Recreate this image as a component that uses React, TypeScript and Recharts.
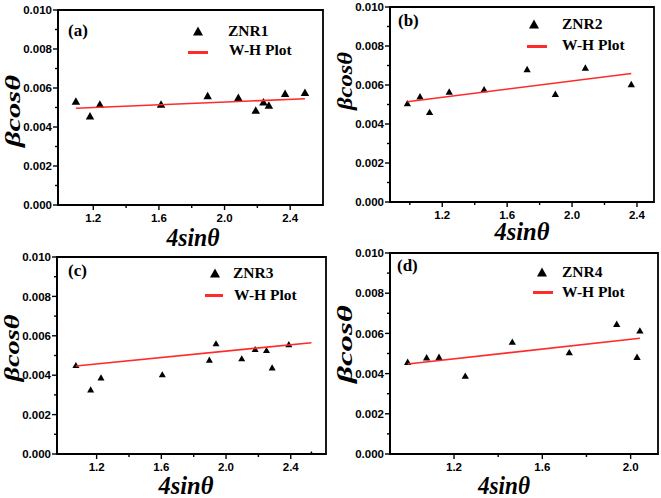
import React from "react";
import { ScatterChart, Scatter, XAxis, YAxis, ReferenceArea, Legend } from "recharts";

// 4sinθ and βcosθ values
const znr1X = [1.094, 1.18, 1.24, 1.613, 1.897, 2.084, 2.19, 2.237, 2.27, 2.369, 2.49];
const znr1Y = [0.00533, 0.00458, 0.00518, 0.00518, 0.00561, 0.00552, 0.00487, 0.0053, 0.00513, 0.00573, 0.00578];
const fit1X = [1.094, 2.49];
const fit1Y = [0.00496, 0.00545];

const znr2X = [0.985, 1.063, 1.122, 1.243, 1.458, 1.723, 1.897, 2.082, 2.365];
const znr2Y = [0.00507, 0.00542, 0.00462, 0.00567, 0.00579, 0.00682, 0.00555, 0.0069, 0.00605];
const fit2X = [0.985, 2.365];
const fit2Y = [0.00514, 0.00659];

const znr3X = [1.072, 1.163, 1.227, 1.606, 1.897, 1.938, 2.097, 2.18, 2.25, 2.285, 2.388, 2.528];
const znr3Y = [0.00452, 0.00328, 0.00389, 0.00405, 0.00479, 0.00562, 0.00486, 0.00533, 0.00528, 0.0044, 0.00558, 0];
const fit3X = [1.072, 2.528];
const fit3Y = [0.00447, 0.00565];

const znr4X = [0.99, 1.076, 1.132, 1.251, 1.464, 1.722, 1.937, 2.029, 2.042];
const znr4Y = [0.00459, 0.00481, 0.00484, 0.0039, 0.00559, 0.00507, 0.00648, 0.00484, 0.00615];
const fit4X = [0.99, 2.042];
const fit4Y = [0.00448, 0.00576];

const xMajor = [1.2, 1.6, 2.0, 2.4];
const yTicks = [0, 0.001, 0.002, 0.003, 0.004, 0.005, 0.006, 0.007, 0.008, 0.009, 0.01];

const RED = "#ff2a2a";
const FIT_NAME = "W-H Plot";
const serif = "'Liberation Serif', 'Times New Roman', serif";
const sans = "'Liberation Sans', Arial, sans-serif";
const tickFont = { fontFamily: sans, fontWeight: 700, fontSize: 11.5, fill: "#000" };

const toPoints = (xs: number[], ys: number[]) => xs.map((x, i) => ({ x, y: ys[i] }));

const panels = [
  {
    tag: "(a)", name: "ZNR1", xs: znr1X, ys: znr1Y, fx: fit1X, fy: fit1Y,
    box: [58, 10, 323, 205], xDomain: [0.985, 2.6], xTicks: [1.2, 1.4, 1.6, 1.8, 2.0, 2.2, 2.4],
    yTitle: { dy: 3.5, len: 72 }, xTitle: { dx: 2.5, base: 41, len: 53 }, tri: 8.5,
    legend: { tri: [198, 31], t1: [228, 31], line: [188, 208, 52], t2: [229, 50] }, tagPos: [68, 30],
  },
  {
    tag: "(b)", name: "ZNR2", xs: znr2X, ys: znr2Y, fx: fit2X, fy: fit2Y,
    box: [390, 7, 654, 202], xDomain: [0.878, 2.505], xTicks: [1.0, 1.2, 1.4, 1.6, 1.8, 2.0, 2.2, 2.4],
    yTitle: { dy: -23.5, len: 58 }, xTitle: { dx: 0, base: 38, len: 55 }, tri: 7.3,
    legend: { tri: [534, 24], t1: [562, 24], line: [527, 547, 46], t2: [562, 45] }, tagPos: [398, 20],
  },
  {
    tag: "(c)", name: "ZNR3", xs: znr3X, ys: znr3Y, fx: fit3X, fy: fit3Y,
    box: [57, 257, 326, 454], xDomain: [0.955, 2.618], xTicks: [1.2, 1.4, 1.6, 1.8, 2.0, 2.2, 2.4],
    yTitle: { dy: -7.5, len: 67 }, xTitle: { dx: -5.5, base: 40, len: 55 }, tri: 7,
    legend: { tri: [215, 273], t1: [233, 273], line: [205, 223, 295], t2: [234, 295] }, tagPos: [68, 270],
  },
  {
    tag: "(d)", name: "ZNR4", xs: znr4X, ys: znr4Y, fx: fit4X, fy: fit4Y,
    box: [390, 253, 658, 454], xDomain: [0.91, 2.124], xTicks: [1.2, 1.4, 1.6, 1.8, 2.0],
    yTitle: { dy: -9.5, len: 78 }, xTitle: { dx: -20, base: 40, len: 52 }, tri: 7.3,
    legend: { tri: [542, 272], t1: [562, 272], line: [533, 553, 292], t2: [562, 292] }, tagPos: [397, 265],
  },
];

const XTick = (props: any) => {
  const { x, y, payload } = props;
  const v = payload.value;
  const major = xMajor.some((m) => Math.abs(m - v) < 1e-6);
  return (
    <g>
      <line x1={x} x2={x} y1={y} y2={y + (major ? 5 : 3)} stroke="#000" strokeWidth={1.4} />
      {major && (
        <text x={x} y={y + 17} textAnchor="middle" style={tickFont}>
          {v.toFixed(1)}
        </text>
      )}
    </g>
  );
};

const YTick = (props: any) => {
  const { x, y, payload } = props;
  const v = payload.value;
  const major = Math.round(v * 1000) % 2 === 0;
  return (
    <g>
      <line x1={x - (major ? 5 : 3)} x2={x} y1={y} y2={y} stroke="#000" strokeWidth={1.4} />
      {major && (
        <text x={x - 6} y={y + 4.2} textAnchor="end" style={tickFont}>
          {v.toFixed(3)}
        </text>
      )}
    </g>
  );
};

const makeTriangle = (w: number) => (props: any) => {
  const { cx, cy } = props;
  const h = w * 0.88;
  return <polygon points={`${cx},${cy - h / 2} ${cx - w / 2},${cy + h / 2} ${cx + w / 2},${cy + h / 2}`} fill="#000" />;
};

function Panel({ p }: { p: (typeof panels)[number] }) {
  const [l, t, r, b] = p.box;
  const W = r - l;
  const H = b - t;
  const ox = l - 58;
  const oy = t - 10;
  const width = W + 66;
  const height = H + 60;
  const lg = p.legend;

  const legendContent = (lp: any) => {
    const items: any[] = lp.payload || [];
    const dotItem = items.find((it) => it.value !== FIT_NAME);
    const fitItem = items.find((it) => it.value === FIT_NAME);
    const n1 = dotItem ? dotItem.value : p.name;
    const n2 = fitItem ? fitItem.value : FIT_NAME;
    const ts = { position: "absolute" as const, fontFamily: serif, fontWeight: 700, fontSize: 15.5, lineHeight: "15.5px", color: "#000", whiteSpace: "nowrap" as const };
    return (
      <div style={{ position: "relative", width, height, pointerEvents: "none" }}>
        <svg style={{ position: "absolute", left: lg.tri[0] - ox - 6, top: lg.tri[1] - oy - 6 }} width={12} height={12}>
          <polygon points="6,1.5 1,10.5 11,10.5" fill="#000" />
        </svg>
        <div style={{ ...ts, left: lg.t1[0] - ox, top: lg.t1[1] - oy - 7.75 }}>{n1}</div>
        <div style={{ position: "absolute", left: lg.line[0] - ox, top: lg.line[2] - oy - 1.5, width: lg.line[1] - lg.line[0], height: 3, background: RED }} />
        <div style={{ ...ts, left: lg.t2[0] - ox, top: lg.t2[1] - oy - 7.75 }}>{n2}</div>
      </div>
    );
  };

  return (
    <div style={{ position: "absolute", left: ox, top: oy, width, height }}>
      <ScatterChart width={width} height={height} margin={{ top: 10, right: 8, bottom: 20, left: 0 }}>
        <XAxis
          type="number"
          dataKey="x"
          domain={p.xDomain}
          ticks={p.xTicks}
          allowDataOverflow
          interval={0}
          height={30}
          tickSize={0}
          tickMargin={0}
          tick={XTick}
          axisLine={{ stroke: "#000", strokeWidth: 1.8 }}
          label={(lp: any) => {
            const vb = lp.viewBox;
            return (
              <text
                x={vb.x + vb.width / 2 + p.xTitle.dx}
                y={vb.y + p.xTitle.base}
                textAnchor="middle"
                textLength={p.xTitle.len}
                lengthAdjust="spacingAndGlyphs"
                style={{ fontFamily: serif, fontStyle: "italic", fontWeight: 700, fontSize: 25, fill: "#000" }}
              >
                4sinθ
              </text>
            );
          }}
        />
        <YAxis
          type="number"
          dataKey="y"
          domain={[0, 0.01]}
          ticks={yTicks}
          allowDataOverflow
          interval={0}
          width={58}
          tickSize={0}
          tickMargin={0}
          tick={YTick}
          axisLine={{ stroke: "#000", strokeWidth: 1.8 }}
          label={(lp: any) => {
            const vb = lp.viewBox;
            const cx = vb.x + vb.width - 38;
            const cy = vb.y + vb.height / 2 + p.yTitle.dy;
            return (
              <text
                x={cx}
                y={cy}
                transform={`rotate(-90, ${cx}, ${cy})`}
                textAnchor="middle"
                textLength={p.yTitle.len}
                lengthAdjust="spacingAndGlyphs"
                style={{ fontFamily: serif, fontStyle: "italic", fontWeight: 700, fontSize: 22, fill: "#000" }}
              >
                βcosθ
              </text>
            );
          }}
        />
        <ReferenceArea
          x1={p.xDomain[0]}
          x2={p.xDomain[1]}
          y1={0}
          y2={0.01}
          fill="none"
          fillOpacity={0}
          stroke="#000"
          strokeWidth={1.8}
          ifOverflow="visible"
        />
        <Scatter name={p.name} data={toPoints(p.xs, p.ys)} fill="#000" shape={makeTriangle(p.tri)} isAnimationActive={false} />
        <Scatter
          name={FIT_NAME}
          data={toPoints(p.fx, p.fy)}
          fill={RED}
          line={{ stroke: RED, strokeWidth: 1.6 }}
          shape={() => <g />}
          isAnimationActive={false}
        />
        <Legend
          layout="vertical"
          align="center"
          verticalAlign="middle"
          wrapperStyle={{ left: 0, top: 0, width, height }}
          content={legendContent}
        />
      </ScatterChart>
      <div
        style={{
          position: "absolute",
          left: p.tagPos[0] - ox,
          top: p.tagPos[1] - oy - 8.5,
          fontFamily: serif,
          fontWeight: 700,
          fontSize: 17,
          lineHeight: "17px",
          color: "#000",
        }}
      >
        {p.tag}
      </div>
    </div>
  );
}

export default function App() {
  return (
    <div style={{ position: "absolute", left: 0, top: 0, width: 661, height: 498, overflow: "hidden", background: "#fff" }}>
      {panels.map((p) => (
        <Panel key={p.tag} p={p} />
      ))}
    </div>
  );
}
